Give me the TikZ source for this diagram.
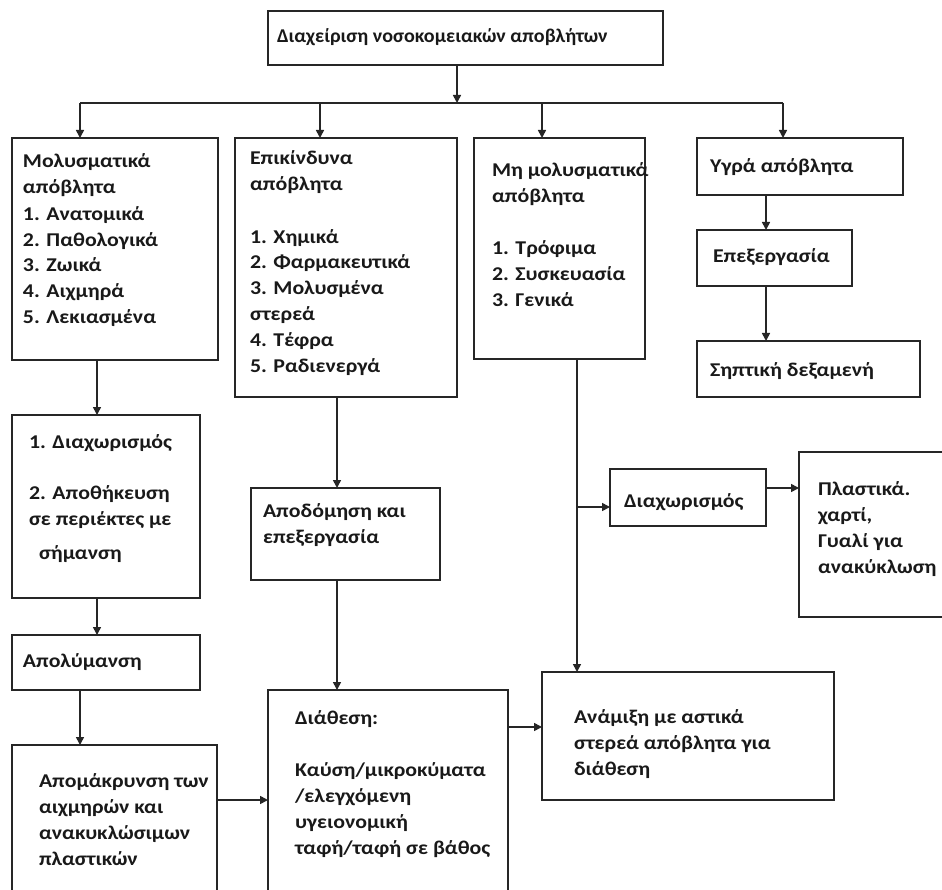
\documentclass[tikz,border=0pt]{standalone}
\usepackage{fontspec}
\setmainfont{Carlito}
\newfontfamily\bodyfont[FakeStretch=1.12]{Carlito}
\newfontfamily\topfont[FakeStretch=1.03]{Carlito}
\usetikzlibrary{arrows.meta,fit}
\begin{document}
\begin{tikzpicture}[x=1pt,y=-1pt,
  box/.style={draw=black!85, line width=1.6pt, inner sep=0pt, outer sep=0pt},
  txt/.style={anchor=north west, yshift=18.2pt, inner sep=0pt, outer sep=0pt, align=left,
    font=\bodyfont\bfseries\fontsize{19.5}{26}\selectfont, text=black!90},
  toptxt/.style={txt, font=\topfont\bfseries\fontsize{19.5}{26}\selectfont},
  arr/.style={draw=black!85, line width=1.6pt, -{Triangle[length=8pt,width=8pt]}},
  ln/.style={draw=black!85, line width=1.6pt}]
\useasboundingbox (0,0) rectangle (942,890);
\clip (0,0) rectangle (942,890);
\fill[white] (0,0) rectangle (942,890);

% boxes
\node[box, fit={(268,11) (663,65)}] (top) {};
\node[box, fit={(12,138) (218,360)}] (b1) {};
\node[box, fit={(235,138) (457,397)}] (b2) {};
\node[box, fit={(474,138) (645,359)}] (b3) {};
\node[box, fit={(697,138) (903,195)}] (b4) {};
\node[box, fit={(697,230) (852,286)}] (b4b) {};
\node[box, fit={(697,341) (920,397)}] (b4c) {};
\node[box, fit={(12,415) (200,598)}] (c1) {};
\node[box, fit={(12,635) (200,690)}] (c1b) {};
\node[box, fit={(12,745) (217,900)}] (c1c) {};
\node[box, fit={(251,488) (440,580)}] (c2) {};
\node[box, fit={(268,690) (508,900)}] (disp) {};
\node[box, fit={(542,672) (834,800)}] (mix) {};
\node[box, fit={(610,469) (766,526)}] (sep) {};
\node[box, fit={(799,452) (960,617)}] (plast) {};

% texts
\node[toptxt] (ttop) at (277,43) {\strut Διαχείριση νοσοκομειακών αποβλήτων};
\node[txt] (tb1) at (23,168) {\strut Μολυσματικά\\απόβλητα\\1. Ανατομικά\\2. Παθολογικά\\3. Ζωικά\\4. Αιχμηρά\\5. Λεκιασμένα};
\node[txt] (tb2) at (250,165) {\strut Επικίνδυνα\\απόβλητα\\ \\1. Χημικά\\2. Φαρμακευτικά\\3. Μολυσμένα\\στερεά\\4. Τέφρα\\5. Ραδιενεργά};
\node[txt] (tb3) at (492,177) {\strut Μη μολυσματικά\\απόβλητα\\ \\1. Τρόφιμα\\2. Συσκευασία\\3. Γενικά};
\node[txt] (tb4) at (710,173) {\strut Υγρά απόβλητα};
\node[txt] (tb4b) at (713,263) {\strut Επεξεργασία};
\node[txt] (tb4c) at (710,377) {\strut Σηπτική δεξαμενή};
\node[txt] (tc1a) at (29,448) {\strut 1. Διαχωρισμός};
\node[txt] (tc1b) at (29,499) {\strut 2. Αποθήκευση\\σε περιέκτες με};
\node[txt] (tc1c) at (39,559) {\strut σήμανση};
\node[txt] (tc1d) at (23,667) {\strut Απολύμανση};
\node[txt] (tc1e) at (39,787) {\strut Απομάκρυνση των\\αιχμηρών και\\ανακυκλώσιμων\\πλαστικών};
\node[txt] (tc2) at (263,517) {\strut Αποδόμηση και\\επεξεργασία};
\node[txt] (tdisp) at (295,724) {\strut Διάθεση:\\ \\Καύση/μικροκύματα\\/ελεγχόμενη\\υγειονομική\\ταφή/ταφή σε βάθος};
\node[txt] (tmix) at (574,723) {\strut Ανάμιξη με αστικά\\στερεά απόβλητα για\\διάθεση};
\node[txt] (tsep) at (624,507) {\strut Διαχωρισμός};
\node[txt] (tplast) at (818,495) {\strut Πλαστικά.\\χαρτί,\\Γυαλί για\\ανακύκλωση};

% connectors
\coordinate (tx) at (457,0);
\coordinate (busL) at (80,103);
\coordinate (bus2) at (320,103);
\coordinate (bus3) at (542,103);
\coordinate (busR) at (783,103);
\draw[arr] (tx |- top.south) -- (tx |- busL);
\draw[ln] (busL) -- (busR);
\draw[arr] (busL) -- (busL |- b1.north);
\draw[arr] (bus2) -- (bus2 |- b2.north);
\draw[arr] (bus3) -- (bus3 |- b3.north);
\draw[arr] (busR) -- (busR |- b4.north);

\coordinate (x97) at (97,0);
\coordinate (x80) at (80,0);
\coordinate (x337) at (337,0);
\coordinate (x577) at (577,0);
\coordinate (x766) at (766,0);
\coordinate (y800) at (0,800);
\coordinate (y727) at (0,727);
\coordinate (y507) at (0,507);
\coordinate (y488) at (0,488);

\draw[arr] (x97 |- b1.south) -- (x97 |- c1.north);
\draw[arr] (x97 |- c1.south) -- (x97 |- c1b.north);
\draw[arr] (x80 |- c1b.south) -- (x80 |- c1c.north);
\draw[arr] (c1c.east |- y800) -- (disp.west |- y800);
\draw[arr] (x337 |- b2.south) -- (x337 |- c2.north);
\draw[arr] (x337 |- c2.south) -- (x337 |- disp.north);
\draw[arr] (disp.east |- y727) -- (mix.west |- y727);
\draw[arr] (x577 |- b3.south) -- (x577 |- mix.north);
\draw[arr] (x577 |- y507) -- (sep.west |- y507);
\draw[arr] (sep.east |- y488) -- (plast.west |- y488);
\draw[arr] (x766 |- b4.south) -- (x766 |- b4b.north);
\draw[arr] (x766 |- b4b.south) -- (x766 |- b4c.north);
\end{tikzpicture}
\end{document}
